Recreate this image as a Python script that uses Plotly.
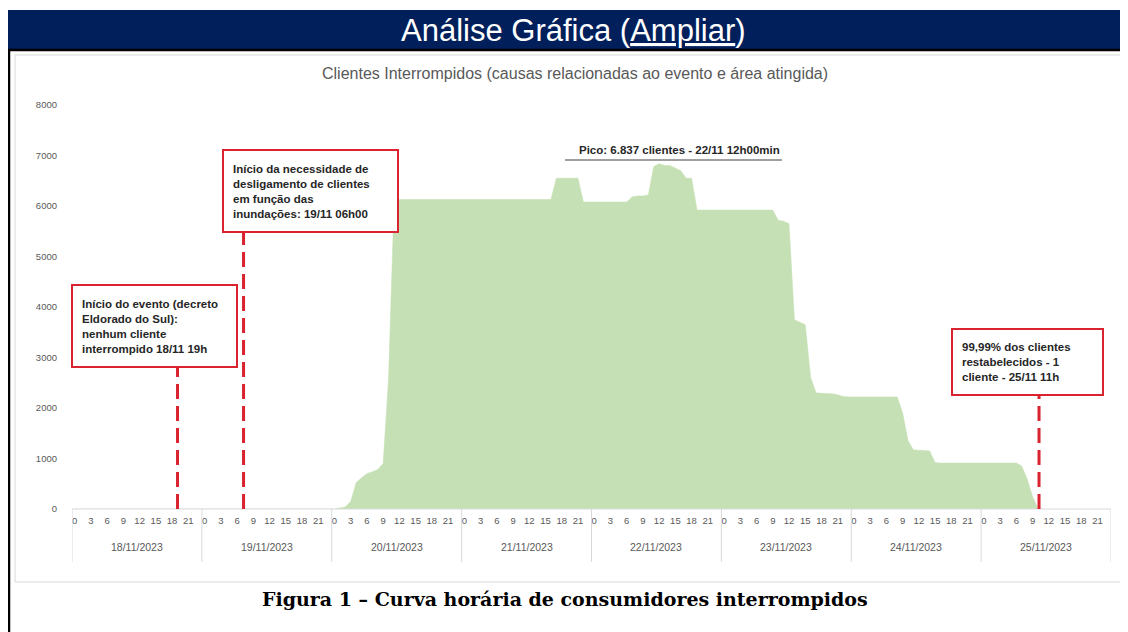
import plotly.graph_objects as go

# ---------------- data ----------------
days = ["18/11/2023", "19/11/2023", "20/11/2023", "21/11/2023",
        "22/11/2023", "23/11/2023", "24/11/2023", "25/11/2023"]
hour_ticks = [0, 3, 6, 9, 12, 15, 18, 21]

# hourly interrupted customers, one list per day (24 values each)
day18 = [0, 0, 0, 0, 0, 0, 0, 0, 0, 0, 0, 0, 0, 0, 0, 0, 0, 0, 0, 0, 0, 0, 0, 0]
day19 = [0, 0, 0, 0, 0, 0, 0, 0, 0, 0, 0, 0, 0, 0, 0, 0, 0, 0, 0, 0, 0, 0, 0, 0]
day20 = [0, 20, 40, 150, 520, 620, 700, 740, 780, 900, 2600, 6000,
         6130, 6130, 6130, 6130, 6130, 6130, 6130, 6130, 6130, 6130, 6130, 6130]
day21 = [6130, 6130, 6130, 6130, 6130, 6130, 6130, 6130, 6130, 6130, 6130, 6130,
         6130, 6130, 6130, 6130, 6130, 6550, 6550, 6550, 6550, 6550, 6080, 6080]
day22 = [6080, 6080, 6080, 6080, 6080, 6080, 6080, 6180, 6200, 6200, 6220, 6780,
         6837, 6800, 6800, 6750, 6700, 6550, 6550, 5920, 5920, 5920, 5920, 5920]
day23 = [5920, 5920, 5920, 5920, 5920, 5920, 5920, 5920, 5920, 5920, 5720, 5700,
         5650, 3750, 3700, 3650, 2600, 2300, 2290, 2290, 2280, 2260, 2230, 2220]
day24 = [2220, 2220, 2220, 2220, 2220, 2220, 2220, 2220, 2220, 1900, 1350, 1170,
         1170, 1160, 1150, 920, 910, 910, 910, 910, 910, 910, 910, 910]
day25 = [910, 910, 910, 910, 910, 910, 910, 850, 600, 250, 10, 1,
         None, None, None, None, None, None, None, None, None, None, None, None]

clientes = day18 + day19 + day20 + day21 + day22 + day23 + day24 + day25
horas = list(range(len(clientes)))

# events (hour index from 18/11 00h) and their notes
event_hours = [19, 31.2, 178.2]
event_texts = [
    "Início do evento (decreto<br>Eldorado do Sul):<br>nenhum cliente<br>interrompido 18/11 19h",
    "Início da necessidade de<br>desligamento de clientes<br>em função das<br>inundações: 19/11 06h00",
    "99,99% dos clientes<br>restabelecidos - 1<br>cliente - 25/11 11h",
]
peak_text = "Pico: 6.837 clientes - 22/11 12h00min"

# ---------------- layout helpers (page pixels -> paper) ----------------
OFF = 8                      # default body margin of the html page
W, H = 1128 - OFF, 632 - OFF
L, R, T, B = 72, 1111, 105, 509   # plot area in page pixels


def fx(px):
    return (px - L) / (R - L)


def fy(py):
    return (B - py) / (B - T)


RED = "#d9232e"
GREY_TXT = "#595959"
SANS = "Liberation Sans, Arial"

fig = go.Figure()
fig.add_trace(go.Scatter(
    x=horas, y=clientes, mode="lines", fill="tozeroy",
    line=dict(width=0.5, color="#C5E0B4"), fillcolor="#C5E0B4",
    hoverinfo="x+y", showlegend=False,
))

shapes = []
annotations = []

# page decorations
shapes.append(dict(type="rect", xref="paper", yref="paper", x0=fx(8), x1=fx(1130), y0=fy(49), y1=fy(10),
                   fillcolor="#001f5b", line=dict(width=0), layer="below"))
shapes.append(dict(type="line", xref="paper", yref="paper", x0=fx(8), x1=fx(1130), y0=fy(50), y1=fy(50),
                   line=dict(color="black", width=2.5)))
shapes.append(dict(type="line", xref="paper", yref="paper", x0=fx(9), x1=fx(9), y0=fy(49), y1=fy(640),
                   line=dict(color="black", width=2.5)))
shapes.append(dict(type="rect", xref="paper", yref="paper", x0=fx(15), x1=fx(1121), y0=fy(582), y1=fy(55),
                   line=dict(color="#d9d9d9", width=1), layer="below"))
annotations.append(dict(xref="paper", yref="paper", x=fx(573), y=fy(30), showarrow=False,
                        text="Análise Gráfica (<u>Ampliar</u>)",
                        font=dict(family="Liberation Sans Narrow, Arial Narrow, Liberation Sans", size=31, color="white"),
                        xanchor="center", yanchor="middle"))

# chart title
annotations.append(dict(xref="paper", yref="paper", x=fx(575), y=fy(74), showarrow=False,
                        text="Clientes Interrompidos (causas relacionadas ao evento e área atingida)",
                        font=dict(family=SANS, size=16, color=GREY_TXT),
                        xanchor="center", yanchor="middle"))

# x axis line and day separators / labels
shapes.append(dict(type="line", xref="paper", yref="paper", x0=0, x1=1, y0=0, y1=0,
                   line=dict(color="#d9d9d9", width=1)))
for i, d in enumerate(days + [None]):
    shapes.append(dict(type="line", xref="x", yref="paper", x0=i * 24 - 0.5, x1=i * 24 - 0.5,
                       y0=0, y1=fy(562), line=dict(color="#d9d9d9", width=1)))
    if d is not None:
        annotations.append(dict(xref="x", yref="paper", x=i * 24 + 11.5, y=fy(547), showarrow=False,
                                text=d, font=dict(family=SANS, size=10.5, color=GREY_TXT),
                                xanchor="center", yanchor="middle"))

# event boxes (page pixel positions) and dashed lines
boxes = [(72, 237, 285, 367), (223, 398, 150, 232), (952, 1103, 329, 395)]
for hx, txt, (bx0, bx1, by0, by1) in zip(event_hours, event_texts, boxes):
    shapes.append(dict(type="line", xref="x", yref="paper", x0=hx, x1=hx, y0=0, y1=fy(by1),
                       line=dict(color=RED, width=3, dash="15px,7px")))
    shapes.append(dict(type="rect", xref="paper", yref="paper", x0=fx(bx0), x1=fx(bx1), y0=fy(by1), y1=fy(by0),
                       fillcolor="white", line=dict(color=RED, width=2), layer="above"))
    annotations.append(dict(xref="paper", yref="paper", x=fx(bx0 + 8), y=fy((by0 + by1) / 2), showarrow=False,
                            text="<b>" + txt.replace("<br>", "</b><br><b>") + "</b>", align="left",
                            xanchor="left", yanchor="middle",
                            font=dict(family=SANS, size=11.5, color="#262626")))

# peak note
annotations.append(dict(xref="paper", yref="paper", x=fx(679), y=fy(150), showarrow=False,
                        text="<b>" + peak_text + "</b>", xanchor="center", yanchor="middle",
                        font=dict(family=SANS, size=11.5, color="#262626")))
shapes.append(dict(type="line", xref="paper", yref="paper", x0=fx(565), x1=fx(782), y0=fy(160), y1=fy(160),
                   line=dict(color="#404040", width=1)))

# caption
annotations.append(dict(xref="paper", yref="paper", x=fx(565), y=fy(599), showarrow=False,
                        text="<b>Figura 1 – Curva horária de consumidores interrompidos</b>",
                        xanchor="center", yanchor="middle",
                        font=dict(family="DejaVu Serif, Liberation Serif", size=19, color="black")))

tickvals = [d * 24 + h for d in range(len(days)) for h in hour_ticks]
ticktext = [str(h) for d in range(len(days)) for h in hour_ticks]

fig.update_layout(
    width=W, height=H, autosize=False,
    margin=dict(l=L - OFF, r=W - (R - OFF), t=T - OFF, b=H - (B - OFF)),
    paper_bgcolor="white", plot_bgcolor="white",
    shapes=shapes, annotations=annotations, showlegend=False,
    xaxis=dict(range=[-0.5, len(days) * 24 - 0.5], tickmode="array", tickvals=tickvals, ticktext=ticktext,
               tickangle=0, showgrid=False, zeroline=False, showline=False, ticks="",
               tickfont=dict(family=SANS, size=9.5, color=GREY_TXT), ticklabelstandoff=4),
    yaxis=dict(range=[0, 8000], tickvals=[0, 1000, 2000, 3000, 4000, 5000, 6000, 7000, 8000],
               showgrid=False, zeroline=False, showline=False, ticks="",
               tickfont=dict(family=SANS, size=9.5, color=GREY_TXT), ticklabelstandoff=14),
)

fig.write_html("out.html")
